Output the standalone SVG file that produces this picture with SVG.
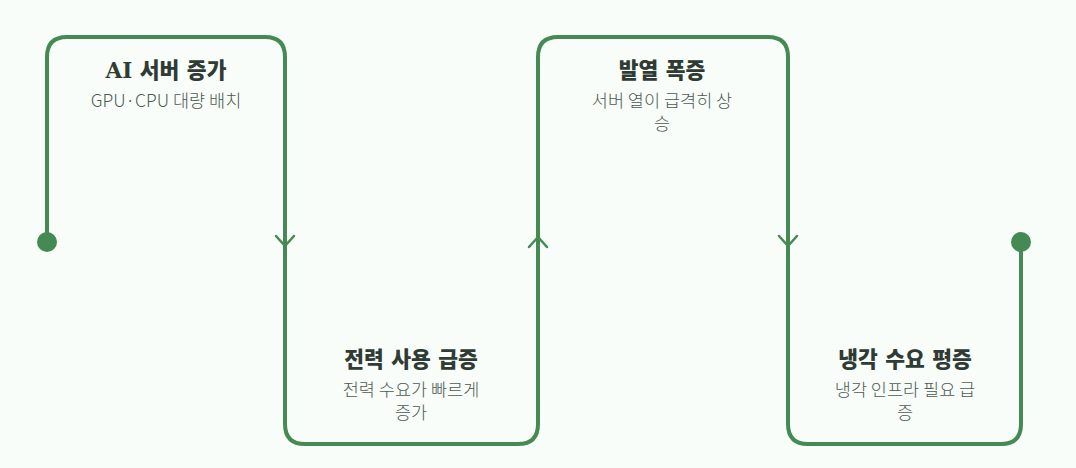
<svg xmlns="http://www.w3.org/2000/svg" width="1076" height="468" viewBox="0 0 1076 468">
<style>
.line{fill:none;stroke:#448a52;stroke-width:4;stroke-linecap:round;stroke-linejoin:round}
.chev{fill:none;stroke:#448a52;stroke-width:2.5;stroke-linecap:round;stroke-linejoin:round}
.title{font-family:"DejaVu Serif","Noto Sans CJK KR",serif;font-weight:900;font-size:21.5px;fill:#2f3b34;text-anchor:middle}
.sub{font-family:"Noto Sans CJK KR","Noto Sans",sans-serif;font-weight:300;font-size:17.5px;fill:#4c5a51;text-anchor:middle}
</style>
<rect width="1076" height="468" fill="#f8fdf9"/>
<g id="connectors">
<path class="line" d="M47 242 V57 Q47 37 67 37 H265 Q285 37 285 57 V424 Q285 444 305 444 H518 Q538 444 538 424 V57 Q538 37 558 37 H768 Q788 37 788 57 V424 Q788 444 808 444 H1001 Q1021 444 1021 424 V242"/>
<circle cx="47" cy="242" r="10" fill="#448a52"/>
<circle cx="1021" cy="242" r="10" fill="#448a52"/>
<path class="chev" d="M276 236 L285 246 L294 236"/>
<path class="chev" d="M529 247 L538 237 L547 247"/>
<path class="chev" d="M779 236 L788 246 L797 236"/>
</g>
<g id="node1">
<text class="title" x="166" y="78">AI 서버 증가</text>
<text class="sub" x="166" y="107">GPU·CPU 대량 배치</text>
</g>
<g id="node2">
<text class="title" x="411" y="367">전력 사용 급증</text>
<text class="sub" x="411" y="396">전력 수요가 빠르게</text>
<text class="sub" x="411" y="419">증가</text>
</g>
<g id="node3">
<text class="title" x="662" y="78">발열 폭증</text>
<text class="sub" x="662" y="107">서버 열이 급격히 상</text>
<text class="sub" x="662" y="130">승</text>
</g>
<g id="node4">
<text class="title" x="905" y="367">냉각 수요 평증</text>
<text class="sub" x="905" y="396">냉각 인프라 필요 급</text>
<text class="sub" x="905" y="419">증</text>
</g>
</svg>
